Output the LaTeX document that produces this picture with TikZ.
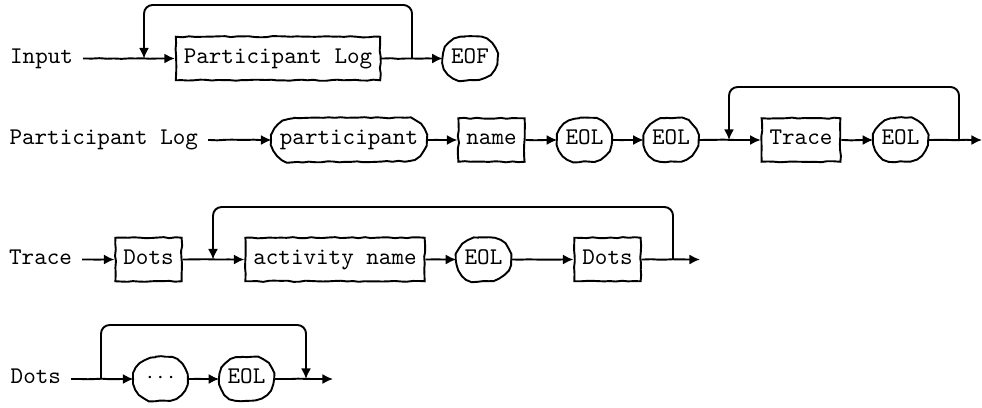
\documentclass[tikz,border=0pt]{standalone}
\usetikzlibrary{arrows.meta,decorations.pathmorphing}
\newcommand\termshape[1]{%
  \draw[termline] ([xshift=9.1pt]#1.north west) -- ([xshift=-9.1pt]#1.north east)
    arc[start angle=90,end angle=-90,radius=9.1pt]
    -- ([xshift=9.1pt]#1.south west)
    arc[start angle=270,end angle=90,radius=9.1pt] -- cycle;}
\begin{document}
\begin{tikzpicture}[x=0.418pt,y=-0.418pt,
  wob/.style={decorate,decoration={random steps,segment length=2.5pt,amplitude=0.25pt}},
  cwob/.style={decorate,decoration={random steps,segment length=3pt,amplitude=0.15pt,pre length=1pt,post length=5pt}},
  txt/.style={font=\ttfamily,text height=6pt,text depth=2.2pt},
  nonterm/.style={txt,draw,wob,line width=0.8pt,rectangle,minimum height=18.2pt,inner xsep=.3333em,inner ysep=0pt},
  term/.style={txt,rectangle,minimum height=18.2pt,inner xsep=.3333em,inner ysep=0pt},
  termline/.style={line width=0.8pt,wob},
  lbl/.style={txt,anchor=east,inner xsep=4pt,inner ysep=0pt},
  conn/.style={line width=0.8pt,cwob,-{Latex[length=4.4pt,width=4.2pt]}},
  loopline/.style={line width=0.8pt,rounded corners=3.6pt,-{Latex[length=4.4pt,width=4.2pt]}},
]
\pgfmathsetseed{7}
\useasboundingbox (0,0) rectangle (982,407);

% Row 1: Input
\node[lbl] (in) at (83,58.5) {Input};
\node[nonterm] (pl) at (278,58.5) {Participant Log};
\node[term] (eof) at (470,58.5) {EOF};
\termshape{eof}
\coordinate (b1) at (412,58.5);
\coordinate (m1) at (144,58.5);
\coordinate (t1) at (0,5);
\draw[conn] (in) -- (pl);
\draw[conn] (pl) -- (eof);
\draw[loopline] (b1) -- (b1 |- t1) -- (m1 |- t1) -- (m1);

% Row 2: Participant Log
\node[lbl] (pll) at (208,140) {Participant Log};
\node[term] (part) at (349,140) {participant};
\node[nonterm] (name) at (491.5,140) {name};
\node[term] (eola) at (584.5,140) {EOL};
\node[term] (eolb) at (671,140) {EOL};
\node[nonterm] (trace) at (801,140) {Trace};
\node[term] (eolc) at (900.5,140) {EOL};
\termshape{part}
\termshape{eola}
\termshape{eolb}
\termshape{eolc}
\coordinate (e2) at (982,140);
\coordinate (b2) at (959,140);
\coordinate (m2) at (729,140);
\coordinate (t2) at (0,87);
\draw[conn] (pll) -- (part);
\draw[conn] (part) -- (name);
\draw[conn] (name) -- (eola);
\draw[conn] (eola) -- (eolb);
\draw[conn] (eolb) -- (trace);
\draw[conn] (trace) -- (eolc);
\draw[conn] (eolc) -- (e2);
\draw[loopline] (b2) -- (b2 |- t2) -- (m2 |- t2) -- (m2);

% Row 3: Trace
\node[lbl] (trl) at (82,259.5) {Trace};
\node[nonterm] (dots1) at (148.5,259.5) {Dots};
\node[nonterm] (act) at (335,259.5) {activity name};
\node[term] (eold) at (483.5,259.5) {EOL};
\node[nonterm] (dots2) at (607.5,259.5) {Dots};
\termshape{eold}
\coordinate (e3) at (700,259.5);
\coordinate (b3) at (673,259.5);
\coordinate (m3) at (213,259.5);
\coordinate (t3) at (0,207);
\draw[conn] (trl) -- (dots1);
\draw[conn] (dots1) -- (act);
\draw[conn] (act) -- (eold);
\draw[conn] (eold) -- (dots2);
\draw[conn] (dots2) -- (e3);
\draw[loopline] (b3) -- (b3 |- t3) -- (m3 |- t3) -- (m3);

% Row 4: Dots
\node[lbl] (dl) at (71,379) {Dots};
\node[term,minimum width=22.2pt] (cd) at (160.5,379) {$\cdots$};
\node[term] (eole) at (246.5,379) {EOL};
\termshape{cd}
\termshape{eole}
\coordinate (e4) at (333,379);
\coordinate (b4) at (101,379);
\coordinate (m4) at (306,379);
\coordinate (t4) at (0,325);
\draw[conn] (dl) -- (cd);
\draw[conn] (cd) -- (eole);
\draw[conn] (eole) -- (e4);
\draw[loopline] (b4) -- (b4 |- t4) -- (m4 |- t4) -- (m4);
\end{tikzpicture}
\end{document}
